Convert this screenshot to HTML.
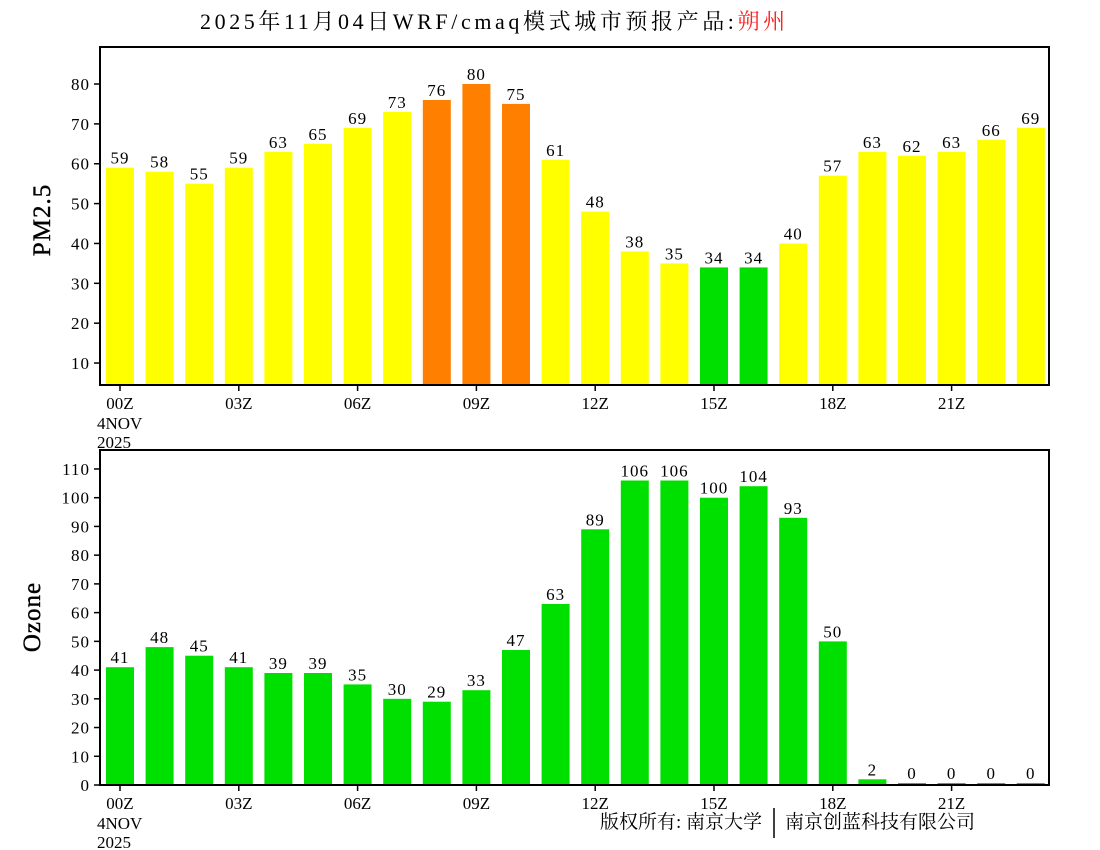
<!DOCTYPE html>
<html><head><meta charset="utf-8"><style>
body{margin:0;background:#fff;}
svg{display:block;}
text{font-family:"Liberation Serif","Noto Serif CJK SC",serif;fill:#000;}
</style></head><body>
<svg id="s" width="1100" height="850" xmlns="http://www.w3.org/2000/svg">
<rect width="1100" height="850" fill="#fff"/>
<text x="200" y="29" font-size="22" letter-spacing="3.6"><tspan>2025年11月04日WRF/cmaq模式城市预报产品:</tspan><tspan fill="#ff2020" style="fill:#ff2020">朔州</tspan></text>
<g id="g"></g>
<text x="600" y="828" font-size="19" font-family="'Noto Serif CJK SC',serif">版权所有: 南京大学</text>
<line x1="774" y1="808" x2="774" y2="838" stroke="#000" stroke-width="1.5"/>
<text x="785" y="828" font-size="19" font-family="'Noto Serif CJK SC',serif">南京创蓝科技有限公司</text>
</svg>
<script>
var g=document.getElementById('g'),h='';
var pm=[59,58,55,59,63,65,69,73,76,80,75,61,48,38,35,34,34,40,57,63,62,63,66,69];
var oz=[41,48,45,41,39,39,35,30,29,33,47,63,89,106,106,100,104,93,50,2,0,0,0,0];
function panel(vals,y0,k,yt,yb,ticks,colf,ylab,lx,ly){
  for(var i=0;i<24;i++){
    var v=vals[i],x=106+39.6*i,yy=y0-v*k;
    if(yy>yb-2)yy=yb-2;
    h+='<rect x="'+x.toFixed(1)+'" y="'+yy.toFixed(1)+'" width="28" height="'+(yb-yy).toFixed(1)+'" fill="'+colf(v)+'"/>';
    h+='<text x="'+(x+14).toFixed(1)+'" y="'+(yy-4).toFixed(1)+'" font-size="17" letter-spacing="1" text-anchor="middle">'+v+'</text>';
  }
  h+='<rect x="100" y="'+yt+'" width="949" height="'+(yb-yt)+'" fill="none" stroke="#000" stroke-width="2"/>';
  ticks.forEach(function(t){var y=y0-t*k;
    h+='<line x1="94" y1="'+y+'" x2="100" y2="'+y+'" stroke="#000" stroke-width="1.5"/>';
    h+='<text x="90" y="'+(y+6)+'" font-size="17" letter-spacing="1" text-anchor="end">'+t+'</text>';});
  var lab=['00Z','03Z','06Z','09Z','12Z','15Z','18Z','21Z'];
  for(var j=0;j<8;j++){var x=120+39.6*3*j;
    h+='<line x1="'+x+'" y1="'+yb+'" x2="'+x+'" y2="'+(yb+6)+'" stroke="#000" stroke-width="1.5"/>';
    h+='<text x="'+x+'" y="'+(yb+24)+'" font-size="17" text-anchor="middle">'+lab[j]+'</text>';}
  h+='<text x="97" y="'+(yb+44)+'" font-size="17">4NOV</text>';
  h+='<text x="97" y="'+(yb+63)+'" font-size="17">2025</text>';
  h+='<text transform="translate('+lx+','+ly+') rotate(-90)" font-size="25" letter-spacing="1" stroke="#000" stroke-width="0.4" text-anchor="middle">'+ylab+'</text>';
}
panel(pm,402.9,3.986,47,385,[10,20,30,40,50,60,70,80],function(v){return v>=75?'#ff7f00':(v<35?'#00e000':'#ffff00');},'PM2.5',50,220);
panel(oz,785,2.873,450,785,[0,10,20,30,40,50,60,70,80,90,100,110],function(){return '#00e000';},'Ozone',40,617);
g.innerHTML=h;
</script>
</body></html>
